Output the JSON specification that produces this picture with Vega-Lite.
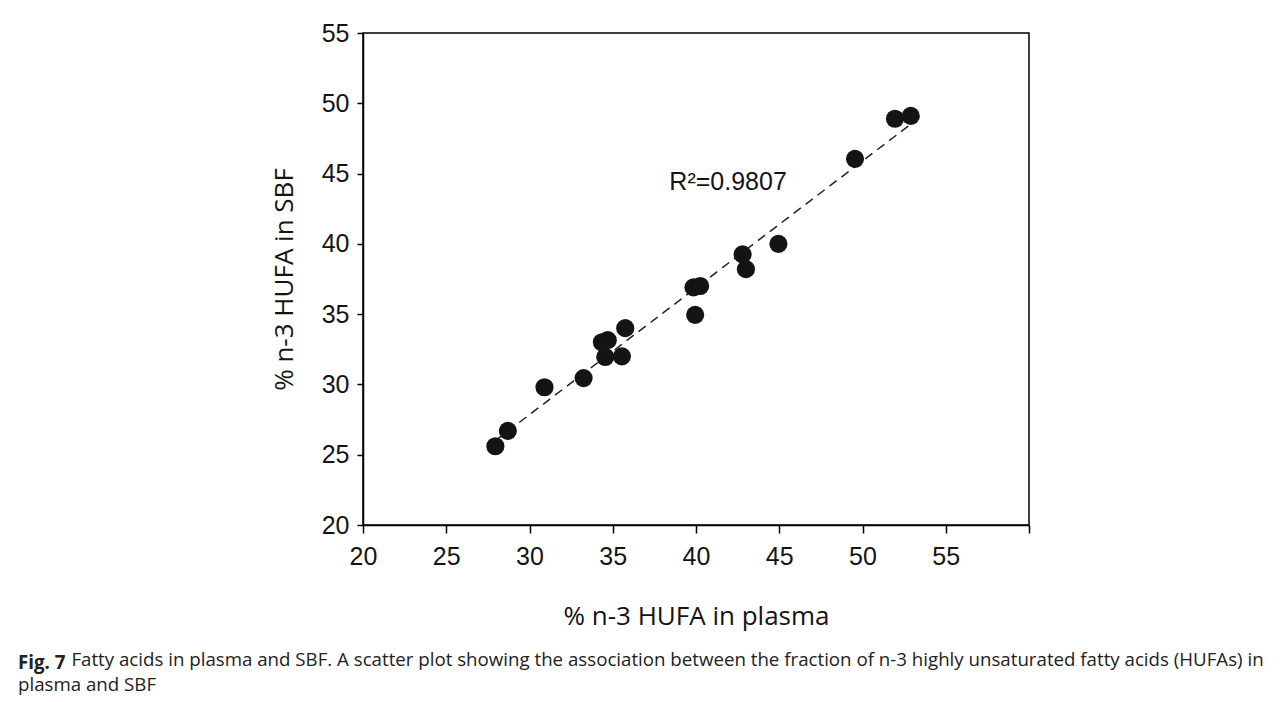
{
  "$schema": "https://vega.github.io/schema/vega-lite/v6.json",
  "width": 666,
  "height": 492,
  "autosize": "none",
  "padding": {"left": 363, "top": 33, "right": 256, "bottom": 177},
  "background": "white",
  "datasets": {
    "points": [
      {"plasma": 27.95, "sbf": 25.6},
      {"plasma": 28.7, "sbf": 26.7},
      {"plasma": 30.9, "sbf": 29.8},
      {"plasma": 33.25, "sbf": 30.45},
      {"plasma": 34.35, "sbf": 33.0},
      {"plasma": 34.7, "sbf": 33.15},
      {"plasma": 34.55, "sbf": 31.95},
      {"plasma": 35.55, "sbf": 32.0},
      {"plasma": 35.75, "sbf": 34.0},
      {"plasma": 39.85, "sbf": 36.9},
      {"plasma": 40.25, "sbf": 37.0},
      {"plasma": 39.95, "sbf": 34.95},
      {"plasma": 42.8, "sbf": 39.25},
      {"plasma": 43.0, "sbf": 38.2},
      {"plasma": 44.95, "sbf": 40.0},
      {"plasma": 49.55, "sbf": 46.05},
      {"plasma": 51.95, "sbf": 48.9},
      {"plasma": 52.9, "sbf": 49.1}
    ],
    "fit": [
      {"plasma": 27.95, "sbf": 26.0},
      {"plasma": 52.94, "sbf": 48.55}
    ],
    "note": [
      {"plasma": 38.4, "sbf": 43.8, "label": "R²=0.9807"}
    ]
  },
  "title": {
    "text": "Fig. 7",
    "subtitle": [
      "\u200b\u00a0\u00a0\u00a0\u00a0\u00a0\u00a0\u00a0\u00a0\u00a0\u00a0\u00a0Fatty acids in plasma and SBF. A scatter plot showing the association between the fraction of n-3 highly unsaturated fatty acids (HUFAs) in",
      "plasma and SBF"
    ],
    "orient": "bottom",
    "anchor": "start",
    "frame": "group",
    "dx": -345,
    "offset": 25,
    "font": "Open Sans",
    "fontSize": 18.7,
    "fontWeight": "bold",
    "color": "#222222",
    "subtitleFont": "Open Sans",
    "subtitleFontSize": 18.7,
    "subtitleFontWeight": "normal",
    "subtitleColor": "#222222",
    "subtitlePadding": -22,
    "subtitleLineHeight": 25
  },
  "encoding": {
    "x": {
      "field": "plasma",
      "type": "quantitative",
      "scale": {"domain": [20, 60], "nice": false, "zero": false},
      "axis": {
        "title": "% n-3 HUFA in plasma",
        "values": [20, 25, 30, 35, 40, 45, 50, 55, 60],
        "labelExpr": "datum.value == 60 ? '' : datum.label",
        "tickSize": 8,
        "labelPadding": 11,
        "titlePadding": 34,
        "labelFlush": false,
        "labelOverlap": false
      }
    },
    "y": {
      "field": "sbf",
      "type": "quantitative",
      "scale": {"domain": [20, 55], "nice": false, "zero": false},
      "axis": {
        "title": "% n-3 HUFA in SBF",
        "values": [20, 25, 30, 35, 40, 45, 50, 55],
        "tickSize": 6,
        "labelPadding": 8,
        "titlePadding": 24,
        "labelFlush": false,
        "labelOverlap": false
      }
    }
  },
  "layer": [
    {
      "data": {"name": "fit"},
      "mark": {"type": "line", "color": "#222222", "strokeWidth": 1.5, "strokeDash": [9, 6]},
      "encoding": {}
    },
    {
      "data": {"name": "points"},
      "mark": {"type": "circle", "size": 330, "color": "#141414", "opacity": 1},
      "encoding": {}
    },
    {
      "data": {"name": "note"},
      "mark": {"type": "text", "align": "left", "baseline": "alphabetic", "font": "Liberation Sans", "fontSize": 25, "color": "#141414"},
      "encoding": {"text": {"field": "label", "type": "nominal"}}
    }
  ],
  "config": {
    "view": {"stroke": "#000000", "strokeWidth": 1.5},
    "axis": {
      "grid": false,
      "domainColor": "#000000",
      "domainWidth": 1.5,
      "tickColor": "#000000",
      "tickWidth": 1.5,
      "labelFont": "Liberation Sans",
      "labelFontSize": 25,
      "labelColor": "#141414",
      "titleFont": "Open Sans",
      "titleFontSize": 26,
      "titleFontWeight": "normal",
      "titleColor": "#141414"
    }
  }
}
